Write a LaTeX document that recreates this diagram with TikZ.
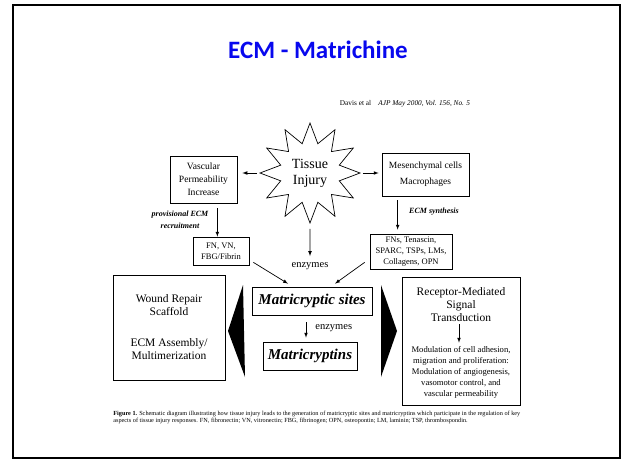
\documentclass[tikz,border=0pt]{standalone}
\usepackage{fontspec}
\setmainfont{Liberation Serif}
\newfontfamily\titlefont{Carlito}
\usetikzlibrary{%
  arrows,%
  shapes.geometric,% wg. star
  positioning,% wg. " of "
  calc%
}
\definecolor{titleblue}{RGB}{8,8,238}

\begin{document}
\begin{tikzpicture}[
    x=1pt,y=1pt,
    >=latex,line width=0.7pt,
    box/.style={rectangle,draw,inner sep=2pt,align=center,
        font=\fontsize{9.6}{13}\selectfont},
    smallbox/.style={box,font=\fontsize{8.5}{11}\selectfont},
    bigbox/.style={box,font=\fontsize{15}{17}\bfseries\itshape\selectfont},
    note/.style={align=center,font=\fontsize{8}{12}\bfseries\itshape\selectfont},
    enz/.style={inner sep=2pt,font=\fontsize{10.5}{12}\selectfont},
    wedge/.style={fill=black,draw=none}
  ]
    \useasboundingbox (0,0) rectangle (622,-461);
    \draw[line width=2pt] (13,-5) rectangle (620,-458);

    \node (title) at (318,-50)
        {\titlefont\fontsize{25}{30}\selectfont\bfseries\color{titleblue}ECM - Matrichine};
    \node (cite) at (405,-104) [font=\fontsize{7.3}{9}\selectfont]
        {Davis et al\quad\textit{AJP May 2000, Vol. 156, No. 5}};

    % top row
    \node (injury) at (310,-173) [star,star points=12,star point ratio=1.65,
        minimum size=100pt,inner sep=0pt,draw,align=center,
        font=\fontsize{14}{16}\selectfont] {Tissue\\Injury};
    \node (vasc) at (203.5,-179.5) [box,minimum width=67pt,minimum height=47pt]
        {Vascular\\Permeability\\Increase};
    \node (mes) at (425.5,-174.5) [box,minimum width=87pt,minimum height=43pt,
        font=\fontsize{9.5}{16}\selectfont] {Mesenchymal cells\\Macrophages};

    % ECM proteins
    \node (prov) at (180,-220) [note] {provisional ECM\\recruitment};
    \node (synth) at (434,-212) [note] {ECM synthesis};
    \node (fn) at (221,-251) [smallbox,minimum width=56pt,minimum height=28pt]
        {FN, VN,\\FBG/Fibrin};
    \node (fns) at (411,-251.5) [smallbox,minimum width=82pt,minimum height=35pt]
        {FNs, Tenascin,\\SPARC, TSPs, LMs,\\Collagens, OPN};
    \node (enz1) at (310,-266) [enz] {enzymes};

    % matricryptic sites and matricryptins
    \node (msites) at (312,-301) [bigbox,minimum width=120pt,minimum height=28pt]
        {Matricryptic sites};
    \node (mtins) at (310,-356) [bigbox,minimum width=94pt,minimum height=28pt]
        {Matricryptins};

    % side boxes
    \node (wound) at (169,-327.5) [box,minimum width=112pt,minimum height=105pt,
        font=\fontsize{11.5}{13}\selectfont]
        {Wound Repair\\Scaffold\\[18pt]ECM Assembly/\\Multimerization};
    \node (recbox) at (461,-341) [box,minimum width=118pt,minimum height=128pt] {};
    \node (recep) at (461,-305) [align=center,inner sep=2pt,
        font=\fontsize{11.5}{13}\selectfont]
        {Receptor-Mediated\\Signal\\Transduction};
    \node (modul) at (461,-372) [align=center,inner sep=2pt,
        font=\fontsize{8.6}{11}\selectfont]
        {Modulation of cell adhesion,\\migration and proliferation:\\
         Modulation of angiogenesis,\\vasomotor control, and\\vascular permeability};

    \fill[wedge] (243,-285) -- (228,-331) -- (245,-377) -- cycle;
    \fill[wedge] (381,-285) -- (397,-331) -- (381,-377) -- cycle;

    \node (caption) at (113,-417.5) [anchor=west,align=left,inner sep=0pt,
        font=\fontsize{6.25}{7.5}\selectfont]
        {\textbf{Figure 1.} Schematic diagram illustrating how tissue injury leads to the
         generation of matricryptic sites and matricryptins which participate in the
         regulation of key\\aspects of tissue injury responses. FN, fibronectin; VN,
         vitronectin; FBG, fibrinogen; OPN, osteopontin; LM, laminin; TSP, thrombospondin.};

    % arrows
    \begin{scope}[->]
        \draw[shorten <=2pt,shorten >=5pt] (injury.west) -- (injury.west -| vasc.east);
        \draw[shorten <=2pt,shorten >=3pt] (injury.east) -- (injury.east -| mes.west);
        \draw[shorten <=5pt,shorten >=4pt] (injury.south) -- (enz1.north);
        \draw[shorten <=5pt] ([xshift=-20pt]vasc.south east)
            -- ([xshift=-20pt]vasc.south east |- fn.north);
        \draw[shorten <=4pt,shorten >=4pt] ([xshift=16pt]mes.south west)
            -- ([xshift=16pt]mes.south west |- fns.north);
        \draw ([shift={(4,3)}]fn.south east) -- ([shift={(-24,3)}]msites.north);
        \draw ([shift={(-5,7)}]fns.south west) -- ([shift={(23,3)}]msites.north);
        \draw[shorten <=7pt,shorten >=4pt] ([xshift=-6pt]msites.south)
            -- ([xshift=-6pt]msites.south |- mtins.north)
            node[midway,right=7pt,enz] (enz2) {enzymes};
        \draw[shorten >=1pt] ([xshift=-2pt]recep.south) -- ([xshift=-2pt]recep.south |- modul.north);
    \end{scope}
\end{tikzpicture}
\end{document}
